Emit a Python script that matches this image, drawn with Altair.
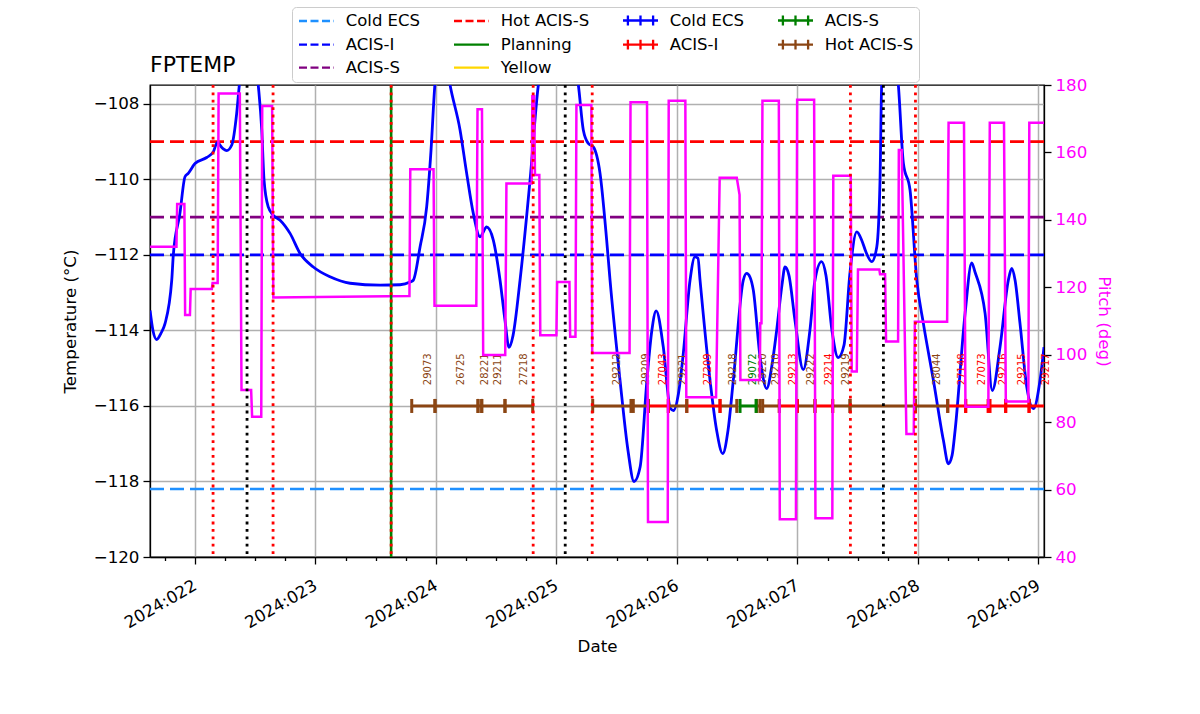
import altair as alt
import numpy as np
import pandas as pd

# ---------------- data ----------------
TEMP_TIME = [21.627, 21.651, 21.682, 21.718, 21.751, 21.807, 21.820, 21.875, 21.917, 21.944,
             22.000, 22.097, 22.152, 22.185, 22.230, 22.263, 22.305, 22.346, 22.368, 22.445,
             22.525, 22.554, 22.573, 22.608, 22.650, 22.706, 22.789, 22.872, 22.982, 23.121,
             23.287, 23.536, 23.702, 23.785, 23.812, 23.868, 23.923, 23.959, 23.992, 24.055,
             24.117, 24.200, 24.255, 24.310, 24.366, 24.421, 24.476, 24.532, 24.573, 24.606,
             24.640, 24.698, 24.781, 24.850, 25.015, 25.182, 25.223, 25.265, 25.306, 25.362,
             25.417, 25.445, 25.528, 25.594, 25.644, 25.695, 25.751, 25.792, 25.828, 25.887,
             25.945, 25.972, 26.013, 26.053, 26.109, 26.150, 26.175, 26.192, 26.275, 26.330,
             26.380, 26.424, 26.468, 26.551, 26.579, 26.607, 26.634, 26.690, 26.745, 26.789,
             26.828, 26.872, 26.897, 26.930, 26.980, 27.049, 27.104, 27.146, 27.201, 27.237,
             27.287, 27.339, 27.387, 27.436, 27.493, 27.534, 27.570, 27.617, 27.659, 27.686,
             27.700, 27.770, 27.838, 27.880, 27.935, 27.991, 28.046, 28.129, 28.212, 28.253,
             28.284, 28.309, 28.392, 28.447, 28.475, 28.558, 28.618, 28.682, 28.751, 28.779,
             28.807, 28.848, 28.904, 28.959, 29.014, 29.047]
TEMP_VAL = [-113.47, -114.00, -114.24, -114.07, -113.82, -112.67, -112.00, -110.90, -109.93, -109.84,
            -109.58, -109.42, -109.27, -109.03, -109.18, -109.24, -109.09, -108.25, -107.50, -105.90,
            -107.50, -108.69, -110.02, -110.73, -110.95, -111.08, -111.43, -111.96, -112.32, -112.58,
            -112.75, -112.80, -112.79, -112.72, -112.67, -111.79, -110.73, -109.23, -107.46, -106.30,
            -107.50, -108.69, -109.84, -110.90, -111.52, -111.26, -111.61, -112.67, -113.73, -114.45,
            -114.13, -112.67, -110.02, -107.50, -105.50, -107.50, -108.69, -109.05, -109.14, -109.84,
            -111.61, -112.67, -115.32, -117.18, -118.00, -117.61, -115.32, -114.00, -113.48, -114.44,
            -116.06, -116.12, -115.67, -114.61, -112.67, -112.05, -112.09, -112.67, -115.32, -116.65,
            -117.26, -116.65, -115.32, -112.67, -112.49, -112.59, -112.93, -114.70, -115.54, -114.92,
            -114.00, -112.80, -112.32, -112.54, -113.73, -115.04, -114.00, -112.67, -112.18, -112.54,
            -114.00, -114.72, -114.39, -112.49, -111.39, -111.61, -111.93, -112.18, -111.79, -110.02,
            -107.50, -106.20, -107.50, -109.58, -110.28, -112.67, -113.82, -115.32, -116.91, -117.53,
            -117.31, -116.65, -113.55, -112.21, -112.46, -113.55, -115.59, -114.44, -112.67, -112.36,
            -112.67, -113.82, -115.50, -116.07, -115.32, -114.44]

PITCH_TIME = [21.627, 21.846, 21.852, 21.912, 21.918, 21.958, 21.964, 22.140, 22.146, 22.188,
              22.196, 22.372, 22.386, 22.466, 22.474, 22.550, 22.558, 22.640, 22.650, 23.780,
              23.787, 23.980, 23.988, 24.335, 24.345, 24.382, 24.392, 24.575, 24.585, 24.795,
              24.800, 24.815, 24.822, 24.858, 24.866, 25.000, 25.006, 25.108, 25.114, 25.158,
              25.166, 25.290, 25.297, 25.607, 25.615, 25.752, 25.760, 25.924, 25.932, 26.070,
              26.078, 26.325, 26.355, 26.497, 26.520, 26.527, 26.688, 26.692, 26.702, 26.710,
              26.846, 26.854, 26.988, 26.998, 27.139, 27.150, 27.290, 27.298, 27.443, 27.451,
              27.493, 27.503, 27.680, 27.686, 27.728, 27.736, 27.836, 27.842, 27.866, 27.905,
              27.966, 27.975, 28.243, 28.255, 28.383, 28.395, 28.585, 28.597, 28.715, 28.730,
              28.917, 28.925, 29.047]
PITCH_VAL = [132.0, 132.0, 144.7, 144.7, 111.8, 111.8, 119.5, 119.5, 121.3, 121.3,
             177.5, 177.5, 89.5, 89.5, 81.6, 81.6, 173.8, 173.8, 117.0, 117.4,
             155.0, 155.0, 114.5, 114.5, 172.8, 172.8, 99.9, 99.9, 150.8, 150.8,
             176.7, 176.7, 153.3, 153.3, 105.8, 105.8, 121.6, 121.6, 105.3, 105.3,
             174.1, 174.1, 100.5, 100.5, 174.9, 174.9, 50.4, 50.4, 175.3, 175.3,
             87.4, 87.4, 152.5, 152.5, 147.4, 92.5, 92.5, 109.3, 109.3, 175.3,
             175.3, 51.2, 51.2, 175.6, 175.6, 51.5, 51.5, 153.1, 153.1, 95.0,
             95.0, 125.3, 125.3, 123.9, 123.9, 103.9, 103.9, 160.7, 160.7, 76.5,
             76.5, 109.8, 109.8, 168.8, 168.8, 84.6, 84.6, 168.8, 168.8, 86.1,
             86.1, 168.8, 168.8]

LIMIT_NAMES = ["Cold ECS", "ACIS-I", "ACIS-S", "Hot ACIS-S"]
LIMIT_VALUES = [-118.2, -112.0, -111.0, -109.0]

PLANNING_TIMES = [23.628]
RED_VLINES = [22.150, 22.648, 23.628, 24.807, 25.297, 27.440, 27.980]
BLACK_VLINES = [22.432, 25.073, 27.714]

OBSIDS = ["29073", "26725", "28221", "29211", "27218", "29212", "29209", "27043", "29221",
          "27209", "29218", "29072", "29220", "29210", "29213", "29222", "29214", "29219",
          "", "28044", "27148", "27073", "29216", "29215", "29217"]
OBS_START = [23.799, 23.992, 24.349, 24.380, 24.573, 25.301, 25.638, 25.763, 25.929,
             26.082, 26.358, 26.524, 26.663, 26.712, 26.850, 26.999, 27.146, 27.293,
             27.437, 27.979, 28.248, 28.397, 28.599, 28.729, 28.923]
OBS_STOP = [23.992, 24.349, 24.380, 24.573, 24.803, 25.619, 25.763, 25.929, 26.082,
            26.358, 26.497, 26.657, 26.690, 26.850, 26.999, 27.146, 27.293, 27.437,
            27.979, 28.248, 28.397, 28.583, 28.729, 28.923, 29.114]
OBS_TYPE = ["Hot ACIS-S", "Hot ACIS-S", "Hot ACIS-S", "Hot ACIS-S", "Hot ACIS-S",
            "Hot ACIS-S", "Hot ACIS-S", "ACIS-I", "Hot ACIS-S", "ACIS-I", "Hot ACIS-S",
            "ACIS-S", "Hot ACIS-S", "Hot ACIS-S", "ACIS-I", "Hot ACIS-S", "ACIS-I",
            "Hot ACIS-S", "Hot ACIS-S", "Hot ACIS-S", "ACIS-I", "ACIS-I", "ACIS-I",
            "ACIS-I", "ACIS-I"]
OBS_LEVEL = -116.0
LABEL_LEVEL = -115.45

DAY_TICKS = [22, 23, 24, 25, 26, 27, 28, 29]
DAY_LABELS = ["2024:022", "2024:023", "2024:024", "2024:025",
              "2024:026", "2024:027", "2024:028", "2024:029"]
TEMP_TICKS = [-120, -118, -116, -114, -112, -110, -108]
PITCH_TICKS = [40, 60, 80, 100, 120, 140, 160, 180]

X_DOMAIN = [21.6265, 29.047]
TEMP_DOMAIN = [-120.0, -107.5]
PITCH_DOMAIN = [40, 180]

# legend entries; order chosen so that the Vega grid shows them
# row 1: Cold ECS, Hot ACIS-S, Cold ECS (obs), ACIS-S (obs)
# row 2: ACIS-I, Planning, ACIS-I (obs), Hot ACIS-S (obs)
# row 3: ACIS-S, Yellow
LEGEND_KEYS = ["l:Cold ECS", "l:ACIS-I", "o:Hot ACIS-S", "l:Hot ACIS-S", "l:Planning",
               "l:ACIS-S", "o:Cold ECS", "o:ACIS-I", "l:Yellow", "o:ACIS-S"]

# ---------------- styles ----------------
FONT = "DejaVu Sans"
FS = 16.7
LIMIT_COLORS = {"Cold ECS": "#1e90ff", "ACIS-I": "#0000ff", "ACIS-S": "#800080",
                "Hot ACIS-S": "#ff0000", "Planning": "#008000", "Yellow": "#ffd700"}
OBS_COLORS = {"Cold ECS": "#0000ff", "ACIS-I": "#ff0000", "ACIS-S": "#008000",
              "Hot ACIS-S": "#8b4513"}
LINE_PATH = "M-2.5,0H2.5"
ERR_PATH = "M-2.5,0H2.5M-1.8,-0.7V0.7M0,-0.7V0.7M1.8,-0.7V0.7"


def legend_style(key):
    kind, name = key.split(":")
    if kind == "l":
        dash = [8, 3.5] if name in LIMIT_NAMES else [1, 0]
        return LIMIT_COLORS[name], LINE_PATH, dash
    return OBS_COLORS[name], ERR_PATH, [1, 0]


leg_colors, leg_shapes, leg_dashes = zip(*[legend_style(k) for k in LEGEND_KEYS])

xscale = alt.Scale(domain=X_DOMAIN, nice=False, zero=False)
tscale = alt.Scale(domain=TEMP_DOMAIN, nice=False, zero=False)
pscale = alt.Scale(domain=PITCH_DOMAIN, nice=False, zero=False)

tick_values = [float(v) for v in np.arange(DAY_TICKS[0] - 0.25, DAY_TICKS[-1] + 0.01, 0.25)]
num_list = "[" + ",".join(str(v) for v in DAY_TICKS) + "]"
str_list = "[" + ",".join("'" + s + "'" for s in DAY_LABELS) + "]"
day_expr = (f"indexof({num_list}, datum.value) >= 0 ? "
            f"{str_list}[indexof({num_list}, datum.value)] : ''")
is_major = "datum.value % 1 === 0"

x_axis = alt.Axis(values=tick_values, labelExpr=day_expr, labelAngle=330,
                  labelAlign="right", labelBaseline="top", labelOverlap=False,
                  labelFlush=False, labelPadding=13, labelOffset=-4,
                  tickSize={"condition": {"test": is_major, "value": 7}, "value": 3.5},
                  gridOpacity={"condition": {"test": is_major, "value": 1}, "value": 0},
                  grid=True, titlePadding=7)
t_axis = alt.Axis(values=TEMP_TICKS, orient="left", grid=True, tickSize=7,
                  labelExpr="datum.value < 0 ? '\u2212' + format(-datum.value, 'd') : format(datum.value, 'd')",
                  titlePadding=14)
p_axis = alt.Axis(values=PITCH_TICKS, orient="right", grid=False, tickSize=7,
                  labelColor="#ff00ff", titleColor="#ff00ff", titlePadding=8)


def X(field):
    return alt.X(field, type="quantitative", scale=xscale, axis=x_axis, title="Date")


def TY(field):
    return alt.Y(field, type="quantitative", scale=tscale, axis=t_axis,
                 title="Temperature (°C)")


# ---------------- layers ----------------
limits_df = pd.DataFrame({"name": LIMIT_NAMES, "value": LIMIT_VALUES})
limit_layers = [
    alt.Chart(limits_df).transform_filter(alt.datum.name == n)
    .mark_rule(color=LIMIT_COLORS[n], strokeWidth=2.6, strokeDash=[14, 6])
    .encode(y=TY("value"))
    for n in LIMIT_NAMES
]

temp_df = pd.DataFrame({"t": TEMP_TIME, "v": TEMP_VAL})
temp_line = alt.Chart(temp_df).mark_line(
    color="#0000ff", strokeWidth=2.8, interpolate="monotone", clip=True
).encode(x=X("t"), y=TY("v"))

obs_df = pd.DataFrame({"obsid": OBSIDS, "start": OBS_START, "stop": OBS_STOP, "type": OBS_TYPE})
obs_df["col"] = obs_df["type"].map(OBS_COLORS)
obs_df["level"] = OBS_LEVEL
obs_df["mid"] = (obs_df["start"] + obs_df["stop"]) / 2
obs_df["label_level"] = LABEL_LEVEL

seg = alt.Chart(obs_df).mark_rule(strokeWidth=3, clip=True).encode(
    x=X("start"), x2=alt.X2("stop", title="Date"), y=TY("level"),
    color=alt.Color("col:N", scale=None))

caps_df = pd.concat([
    obs_df[["start", "col", "level"]].rename(columns={"start": "t"}),
    obs_df[["stop", "col", "level"]].rename(columns={"stop": "t"}),
], ignore_index=True)
caps = alt.Chart(caps_df).mark_tick(orient="vertical", size=14, thickness=3,
                                    opacity=1, clip=True).encode(
    x=X("t"), y=TY("level"), color=alt.Color("col:N", scale=None))

labels = alt.Chart(obs_df).mark_text(angle=270, align="left", baseline="top",
                                     fontSize=10, font=FONT).encode(
    x=X("mid"), y=TY("label_level"), text="obsid:N",
    color=alt.Color("col:N", scale=None))

temp_group = alt.layer(*limit_layers, temp_line, seg, caps, labels)

pitch_df = pd.DataFrame({"t": PITCH_TIME, "p": PITCH_VAL})
pitch_line = alt.Chart(pitch_df).mark_line(color="#ff00ff", strokeWidth=2.5, clip=True).encode(
    x=X("t"), y=alt.Y("p:Q", scale=pscale, axis=p_axis, title="Pitch (deg)"))

plan_v = alt.Chart(pd.DataFrame({"t": PLANNING_TIMES})).mark_rule(
    color="#008000", strokeWidth=2.6).encode(x=X("t"))
red_v = alt.Chart(pd.DataFrame({"t": RED_VLINES})).mark_rule(
    color="#ff0000", strokeWidth=2.8, strokeDash=[2.8, 4.6]).encode(x=X("t"))
black_v = alt.Chart(pd.DataFrame({"t": BLACK_VLINES})).mark_rule(
    color="#000000", strokeWidth=2.8, strokeDash=[2.8, 4.6]).encode(x=X("t"))

legend = alt.Legend(orient="none", legendX=142, legendY=-78, columns=4,
                    columnPadding=28, rowPadding=5.1, padding=5,
                    symbolSize=196, symbolStrokeWidth=2.3, symbolOffset=11,
                    labelOffset=20.7, labelFontSize=16.5, labelFont=FONT,
                    labelColor="black", strokeColor="#cccccc", fillColor="white",
                    cornerRadius=4, labelExpr="slice(datum.label, 2)")
legend_layer = alt.Chart(pd.DataFrame({"key": LEGEND_KEYS})).transform_filter("false").mark_point(
    filled=False, opacity=1, strokeWidth=2.3).encode(
    color=alt.Color("key:N", scale=alt.Scale(domain=LEGEND_KEYS, range=list(leg_colors)),
                    legend=legend, title=None),
    shape=alt.Shape("key:N", scale=alt.Scale(domain=LEGEND_KEYS, range=list(leg_shapes)),
                    legend=legend, title=None),
    strokeDash=alt.StrokeDash("key:N", scale=alt.Scale(domain=LEGEND_KEYS, range=[list(d) for d in leg_dashes]),
                              legend=legend, title=None),
)

chart = alt.layer(temp_group, pitch_line, plan_v, red_v, black_v, legend_layer).resolve_scale(
    y="independent"
).properties(
    width=894, height=472,
    title=alt.TitleParams("FPTEMP", anchor="start", fontSize=22, fontWeight="normal",
                          font=FONT, color="black", offset=6, dy=76, frame="group"),
    autosize=alt.AutoSizeParams(type="none"),
    padding={"left": 150, "top": 85, "right": 156, "bottom": 157},
).configure(font=FONT, background="white").configure_view(
    stroke="black", strokeWidth=1.3
).configure_axis(
    domainColor="black", domainWidth=1.3, tickColor="black", tickWidth=1.3,
    labelFont=FONT, labelFontSize=FS, titleFont=FONT, titleFontSize=FS,
    titleFontWeight="normal", labelColor="black", titleColor="black",
    gridColor="#b0b0b0", gridWidth=1.5, labelPadding=4,
)

chart.save("out.html", embed_options={"renderer": "svg", "actions": False})
